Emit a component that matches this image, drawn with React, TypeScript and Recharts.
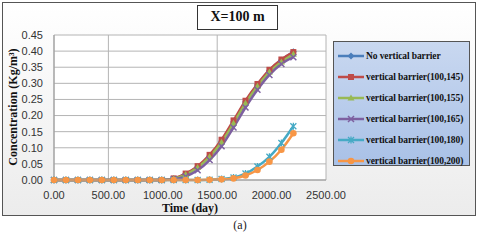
import React from 'react';
import { LineChart, Line, XAxis, YAxis, CartesianGrid, Legend } from 'recharts';

const days = [0, 110, 220, 330, 440, 550, 660, 770, 880, 990, 1100, 1210, 1320, 1430, 1540, 1650, 1760, 1870, 1980, 2090, 2200];
const noBarrier = [0, 0, 0, 0, 0, 0, 0, 0, 0, 0, 0.004, 0.018, 0.040, 0.074, 0.120, 0.180, 0.242, 0.295, 0.340, 0.372, 0.398];
const barrier145 = [0, 0, 0, 0, 0, 0, 0, 0, 0, 0, 0.005, 0.020, 0.043, 0.078, 0.125, 0.185, 0.246, 0.298, 0.342, 0.374, 0.397];
const barrier155 = [0, 0, 0, 0, 0, 0, 0, 0, 0, 0, 0.004, 0.017, 0.039, 0.072, 0.117, 0.176, 0.238, 0.291, 0.335, 0.366, 0.390];
const barrier165 = [0, 0, 0, 0, 0, 0, 0, 0, 0, 0, 0.002, 0.011, 0.030, 0.062, 0.105, 0.163, 0.225, 0.280, 0.326, 0.360, 0.381];
const barrier180 = [0, 0, 0, 0, 0, 0, 0, 0, 0, 0, 0, 0, 0, 0.001, 0.003, 0.008, 0.020, 0.042, 0.072, 0.115, 0.167];
const barrier200 = [0, 0, 0, 0, 0, 0, 0, 0, 0, 0, 0, 0, 0, 0.001, 0.002, 0.005, 0.014, 0.031, 0.057, 0.094, 0.145];

const xTicks = [0, 500, 1000, 1500, 2000, 2500];
const yTicks = [0, 0.05, 0.1, 0.15, 0.2, 0.25, 0.3, 0.35, 0.4, 0.45];

const seriesDefs = [
  { key: 'b0', name: 'No vertical barrier', values: noBarrier, color: '#4a7ebb', shape: 'diamond' },
  { key: 'b145', name: 'vertical barrier(100,145)', values: barrier145, color: '#be4b48', shape: 'square' },
  { key: 'b155', name: 'vertical barrier(100,155)', values: barrier155, color: '#98b954', shape: 'triangle' },
  { key: 'b165', name: 'vertical barrier(100,165)', values: barrier165, color: '#7d60a0', shape: 'x' },
  { key: 'b180', name: 'vertical barrier(100,180)', values: barrier180, color: '#46aac5', shape: 'star' },
  { key: 'b200', name: 'vertical barrier(100,200)', values: barrier200, color: '#f79646', shape: 'circle' },
];

const data = days.map((d, i) => {
  const row: Record<string, number> = { day: d };
  seriesDefs.forEach((s) => {
    row[s.key] = s.values[i];
  });
  return row;
});

function marker(shape: string, color: string, cx: number, cy: number, key?: any) {
  switch (shape) {
    case 'diamond':
      return <path key={key} d={`M${cx},${cy - 3.5}L${cx + 3.5},${cy}L${cx},${cy + 3.5}L${cx - 3.5},${cy}Z`} fill={color} />;
    case 'square':
      return <rect key={key} x={cx - 3} y={cy - 3} width={6} height={6} fill={color} />;
    case 'triangle':
      return <path key={key} d={`M${cx},${cy - 3.5}L${cx + 3.5},${cy + 2.5}L${cx - 3.5},${cy + 2.5}Z`} fill={color} />;
    case 'x':
      return (
        <path key={key} d={`M${cx - 3},${cy - 3}L${cx + 3},${cy + 3}M${cx - 3},${cy + 3}L${cx + 3},${cy - 3}`} stroke={color} strokeWidth={1.5} fill="none" />
      );
    case 'star':
      return (
        <path key={key} d={`M${cx - 3},${cy - 3}L${cx + 3},${cy + 3}M${cx - 3},${cy + 3}L${cx + 3},${cy - 3}M${cx},${cy - 3.5}L${cx},${cy + 3.5}`} stroke={color} strokeWidth={1.3} fill="none" />
      );
    default:
      return <circle key={key} cx={cx} cy={cy} r={3.3} fill={color} />;
  }
}

const makeDot = (shape: string, color: string) => (props: any) => {
  const { cx, cy, index } = props;
  if (cx == null || cy == null) return <g key={`d${index}`} />;
  return marker(shape, color, cx, cy, `d${index}`);
};

const LegendBox = () => (
  <div
    style={{
      width: 137,
      height: 125,
      border: '1px solid #555',
      background: 'linear-gradient(#c9d8f0, #a9c1e7)',
      boxSizing: 'border-box',
      paddingTop: 3,
    }}
  >
    {seriesDefs.map((s) => (
      <div key={s.key} style={{ display: 'flex', alignItems: 'center', height: 21.1 }}>
        <svg width={32} height={10} style={{ flex: 'none' }}>
          <line x1={4} y1={5} x2={30} y2={5} stroke={s.color} strokeWidth={2.5} />
          {marker(s.shape, s.color, 17, 5)}
        </svg>
        <span
          style={{
            fontFamily: '"Liberation Serif", serif',
            fontWeight: 'bold',
            fontSize: 9.5,
            color: '#111',
            whiteSpace: 'nowrap',
            letterSpacing: -0.1,
          }}
        >
          {s.name}
        </span>
      </div>
    ))}
  </div>
);

export default function App() {
  return (
    <div style={{ position: 'absolute', left: 0, top: 0, width: 480, height: 240, background: '#fff' }}>
      <div
        style={{
          position: 'absolute',
          left: 2,
          top: 2,
          width: 474,
          height: 214,
          border: '1.5px solid #555',
          boxSizing: 'border-box',
          background: 'linear-gradient(#ffffff, #ececec)',
        }}
      />
      <div
        style={{
          position: 'absolute',
          left: 197,
          top: 5,
          width: 81,
          height: 25,
          border: '1.5px solid #333',
          boxSizing: 'border-box',
          background: '#fff',
          fontFamily: '"Liberation Serif", serif',
          fontWeight: 'bold',
          fontSize: 14,
          lineHeight: '22px',
          textAlign: 'center',
          color: '#111',
        }}
      >
        X=100 m
      </div>
      <div
        style={{
          position: 'absolute',
          left: 0,
          top: 218,
          width: 480,
          textAlign: 'center',
          fontFamily: '"Liberation Serif", serif',
          fontSize: 12,
          color: '#222',
        }}
      >
        (a)
      </div>
      <div style={{ position: 'absolute', left: 0, top: 0 }}>
        <LineChart width={480} height={240} data={data} margin={{ top: 35, right: 154, left: 0, bottom: 30 }}>
          <CartesianGrid stroke="#b4b4b4" strokeWidth={1} fill="#ffffff" horizontalValues={yTicks} verticalValues={xTicks} />
          <XAxis
            dataKey="day"
            type="number"
            domain={[0, 2500]}
            ticks={xTicks}
            tickFormatter={(v: number) => v.toFixed(2)}
            height={30}
            tickSize={0}
            tickMargin={11}
            axisLine={{ stroke: '#999' }}
            tick={{ fontFamily: '"Liberation Sans", sans-serif', fontSize: 11, fill: '#333' }}
            label={{
              content: (p: any) => {
                const vb = p.viewBox || {};
                return (
                  <text
                    x={vb.x + vb.width / 2}
                    y={212}
                    textAnchor="middle"
                    fontFamily='"Liberation Serif", serif'
                    fontWeight="bold"
                    fontSize={12}
                    fill="#111"
                  >
                    Time (day)
                  </text>
                );
              },
            }}
          />
          <YAxis
            type="number"
            domain={[0, 0.45]}
            ticks={yTicks}
            tickFormatter={(v: number) => v.toFixed(2)}
            width={54}
            tickSize={0}
            tickMargin={11}
            axisLine={{ stroke: '#999' }}
            interval={0}
            tick={{ fontFamily: '"Liberation Sans", sans-serif', fontSize: 11, fill: '#333' }}
            label={{
              content: () => (
                <text
                  x={0}
                  y={0}
                  transform="translate(17,107) rotate(-90)"
                  textAnchor="middle"
                  fontFamily='"Liberation Serif", serif'
                  fontWeight="bold"
                  fontSize={12}
                  fill="#111"
                >
                  Concentration (Kg/m³)
                </text>
              ),
            }}
          />
          <Legend
            layout="vertical"
            align="center"
            verticalAlign="middle"
            content={() => <LegendBox />}
            wrapperStyle={{ left: 333, top: 41, width: 137, height: 125 }}
          />
          {seriesDefs.map((s) => (
            <Line
              key={s.key}
              dataKey={s.key}
              name={s.name}
              type="monotone"
              stroke={s.color}
              strokeWidth={2.5}
              dot={makeDot(s.shape, s.color)}
              activeDot={false}
              isAnimationActive={false}
            />
          ))}
        </LineChart>
      </div>
    </div>
  );
}
